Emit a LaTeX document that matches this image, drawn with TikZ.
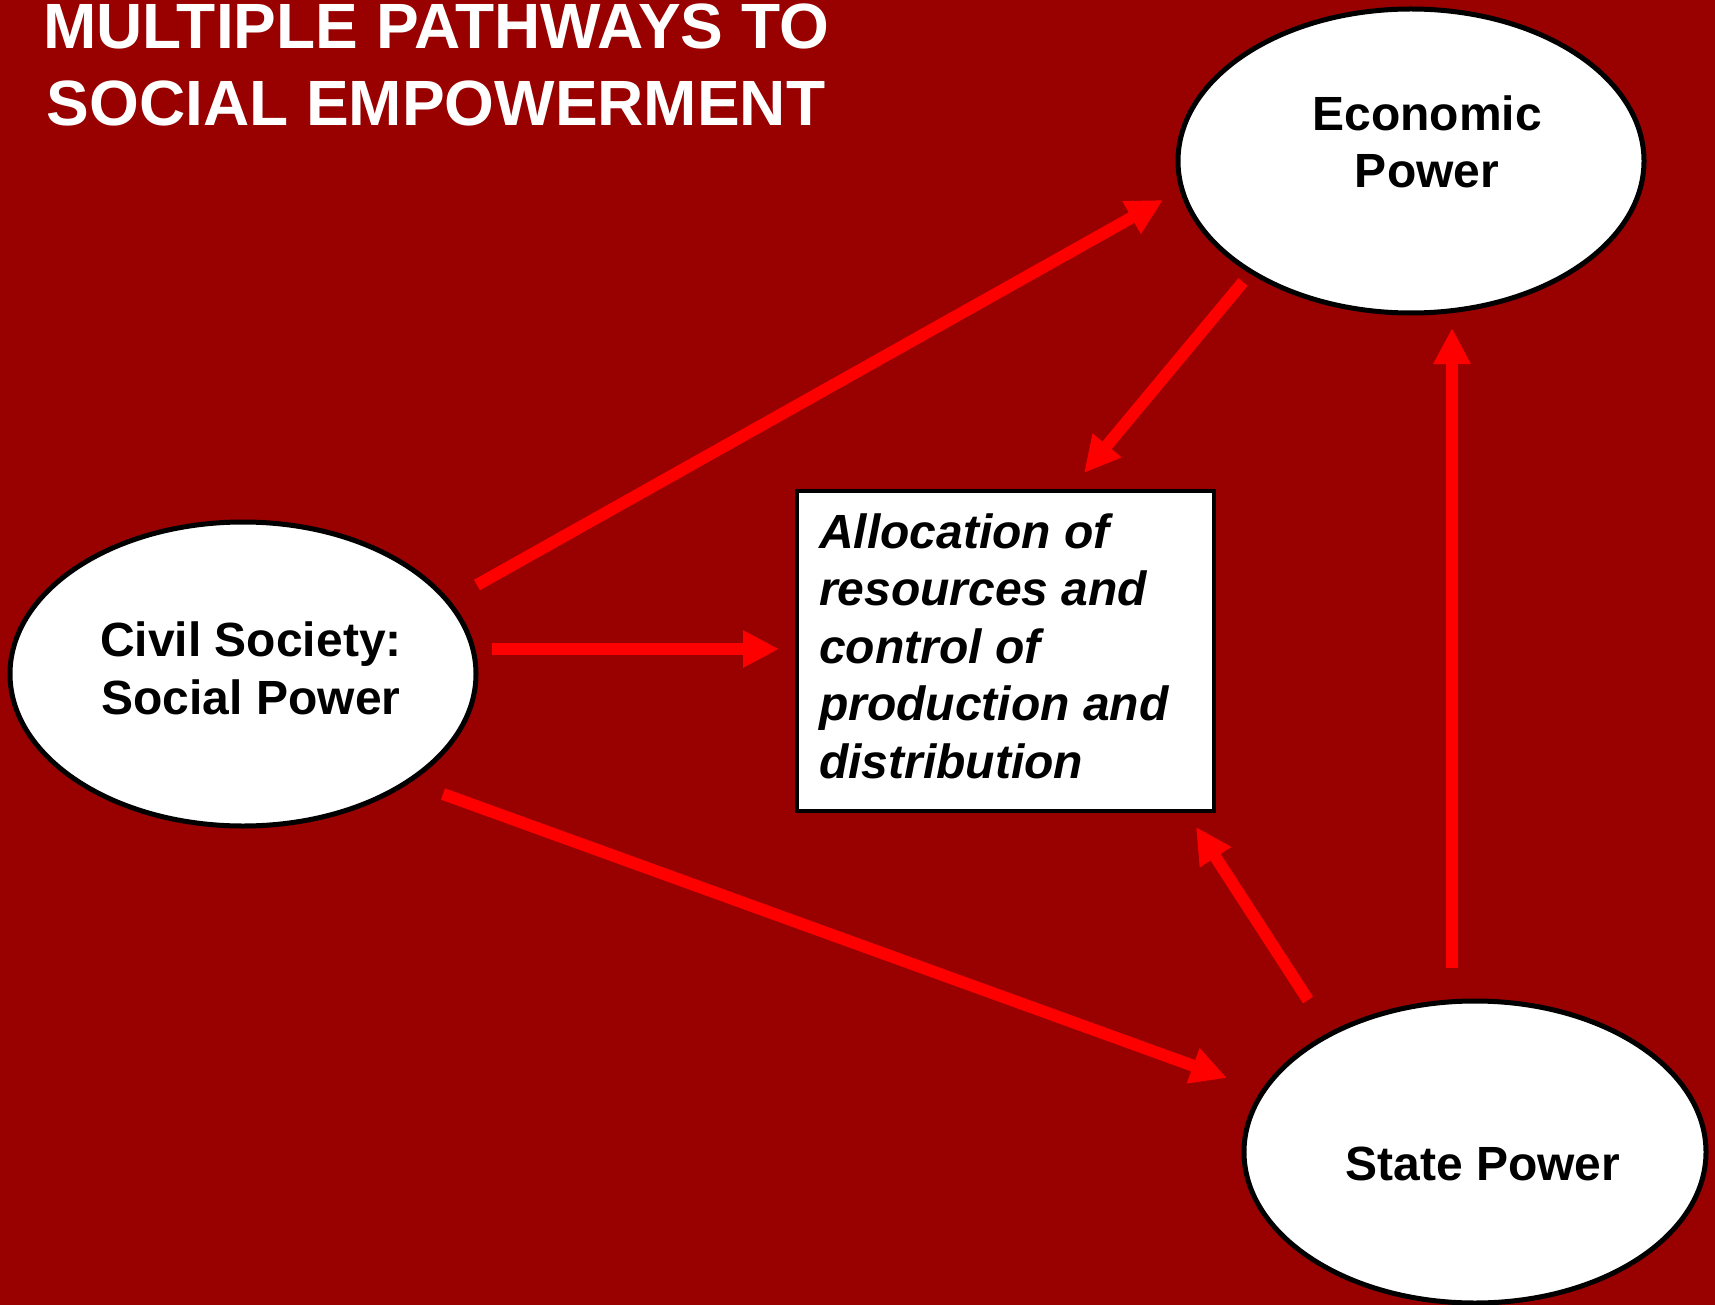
\documentclass[tikz,border=0pt]{standalone}
\usepackage{fontspec}
\setmainfont{Liberation Sans}
\usetikzlibrary{arrows.meta}
\definecolor{bgred}{HTML}{990000}
\definecolor{arrred}{HTML}{FF0000}
\tikzset{
  lbl/.style={font=\bfseries\fontsize{48}{57.4}\selectfont, text=black, inner sep=0pt},
  flow/.style={draw=arrred, line width=12pt, -{Triangle[length=36pt,width=35pt]}},
}
\begin{document}
\begin{tikzpicture}[x=1pt,y=-1pt]
\useasboundingbox (0,0) rectangle (1715,1305);
\fill[bgred] (0,0) rectangle (1715,1305);

% title (base anchor = baseline of last line)
\node[font=\bfseries\fontsize{64}{77}\selectfont, text=white, align=center, anchor=base, inner sep=0pt] (title) at (436,126) {MULTIPLE PATHWAYS TO\\SOCIAL EMPOWERMENT};

% ellipses
\draw[black, line width=5pt, fill=white] (1411,161) ellipse [x radius=233, y radius=152];
\coordinate (eco) at (1411,161);
\draw[black, line width=5pt, fill=white] (243,674) ellipse [x radius=233, y radius=152];
\coordinate (civ) at (243,674);
\draw[black, line width=5pt, fill=white] (1475,1152) ellipse [x radius=231, y radius=151];
\coordinate (sta) at (1475,1152);

\node[lbl, align=center, anchor=base] (ecot) at (1427,188) {Economic\\Power};
\node[lbl, align=center, anchor=base] (civt) at (251,714) {Civil Society:\\Social Power};
\node[lbl, anchor=base] (stat) at (1483,1180) {State Power};

% box
\node[draw=black, line width=4pt, fill=white, minimum width=417pt, minimum height=320pt, inner sep=0pt, anchor=north west] (box) at (795,489) {};
\node[lbl, font=\bfseries\itshape\fontsize{48}{57.4}\selectfont, align=left, anchor=base west] (boxt) at (819,778) {Allocation of\\resources and\\control of\\production and\\distribution};

% arrow endpoints
\coordinate (a1s) at (477,585);  \coordinate (a1e) at (1163,200);
\coordinate (a2s) at (1243,282); \coordinate (a2e) at (1084,473);
\coordinate (a3s) at (492,649);  \coordinate (a3e) at (779,649);
\coordinate (a4s) at (443,794);  \coordinate (a4e) at (1227,1078);
\coordinate (a5s) at (1308,1000);\coordinate (a5e) at (1196,827);
\coordinate (a6s) at (1452,968); \coordinate (a6e) at (1452,328);

\draw[flow] (a1s) -- (a1e);
\draw[flow] (a2s) -- (a2e);
\draw[flow] (a3s) -- (a3e);
\draw[flow] (a4s) -- (a4e);
\draw[flow] (a5s) -- (a5e);
\draw[flow] (a6s) -- (a6e);
\end{tikzpicture}
\end{document}
